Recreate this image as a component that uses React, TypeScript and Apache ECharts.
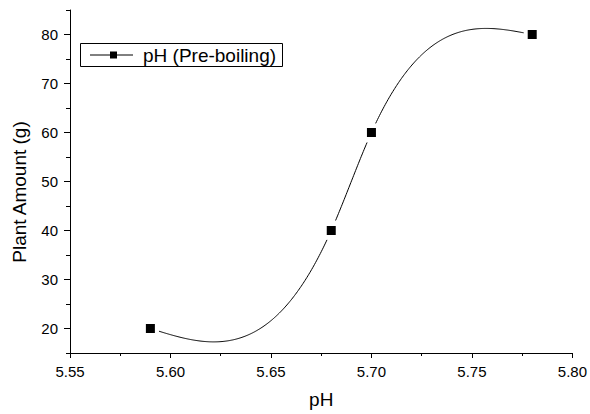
import { useEffect, useRef } from "react";
import * as echarts from "echarts";

const phValues = [5.59, 5.68, 5.7, 5.78];
const plantAmounts = [20, 40, 60, 80];
const seriesName = "pH (Pre-boiling)";
const xAxisTitle = "pH";
const yAxisTitle = "Plant Amount (g)";
const yMajorTicks = [20, 30, 40, 50, 60, 70, 80];

const FONT = "Arial, 'Liberation Sans', sans-serif";

function naturalSpline(xs: number[], ys: number[]) {
  const n = xs.length;
  const h: number[] = [];
  for (let i = 0; i < n - 1; i++) h.push(xs[i + 1] - xs[i]);
  const M = new Array(n).fill(0);
  const a: number[] = [], b: number[] = [], c: number[] = [], d: number[] = [];
  for (let i = 1; i < n - 1; i++) {
    a.push(h[i - 1]);
    b.push(2 * (h[i - 1] + h[i]));
    c.push(h[i]);
    d.push(6 * ((ys[i + 1] - ys[i]) / h[i] - (ys[i] - ys[i - 1]) / h[i - 1]));
  }
  const m = b.length;
  for (let i = 1; i < m; i++) {
    const w = a[i] / b[i - 1];
    b[i] -= w * c[i - 1];
    d[i] -= w * d[i - 1];
  }
  const sol = new Array(m).fill(0);
  if (m > 0) {
    sol[m - 1] = d[m - 1] / b[m - 1];
    for (let i = m - 2; i >= 0; i--) sol[i] = (d[i] - c[i] * sol[i + 1]) / b[i];
  }
  for (let i = 0; i < m; i++) M[i + 1] = sol[i];
  return (x: number) => {
    let i = 0;
    while (i < n - 2 && x > xs[i + 1]) i++;
    const x0 = xs[i], x1 = xs[i + 1], hh = h[i];
    const y0 = ys[i], y1 = ys[i + 1];
    return (
      (M[i] * Math.pow(x1 - x, 3)) / (6 * hh) +
      (M[i + 1] * Math.pow(x - x0, 3)) / (6 * hh) +
      (y0 / hh - (M[i] * hh) / 6) * (x1 - x) +
      (y1 / hh - (M[i + 1] * hh) / 6) * (x - x0)
    );
  };
}

export default function App() {
  const ref = useRef<HTMLDivElement>(null);

  useEffect(() => {
    document.body.style.margin = "0";
    if (!ref.current) return;
    const chart = echarts.init(ref.current, null, { renderer: "svg" });
    const spline = naturalSpline(phValues, plantAmounts);
    const points = phValues.map((x, i) => [x, plantAmounts[i]]);

    const option: any = {
      animation: false,
      backgroundColor: "#fff",
      grid: { left: 70, right: 16, top: 10, bottom: 60 },
      xAxis: {
        type: "value",
        min: 5.55,
        max: 5.8,
        interval: 0.05,
        name: xAxisTitle,
        nameLocation: "middle",
        nameGap: 37,
        nameTextStyle: { fontFamily: FONT, fontSize: 19, color: "#000" },
        axisLine: { show: true, lineStyle: { color: "#000", width: 1 } },
        axisTick: { show: true, length: 5, lineStyle: { color: "#000" } },
        minorTick: { show: true, splitNumber: 2, length: 3, lineStyle: { color: "#000" } },
        splitLine: { show: false },
        axisLabel: {
          fontFamily: FONT,
          fontSize: 15,
          color: "#000",
          margin: 11,
          formatter: (v: number) => v.toFixed(2),
        },
      },
      yAxis: [
        {
          type: "value",
          min: 15,
          max: 85,
          axisLine: { show: true, lineStyle: { color: "#000", width: 1 } },
          axisTick: {
            show: true,
            length: 6,
            customValues: yMajorTicks,
            lineStyle: { color: "#000" },
          },
          splitLine: { show: false },
          axisLabel: {
            fontFamily: FONT,
            fontSize: 15,
            color: "#000",
            margin: 12,
            customValues: yMajorTicks,
          },
        },
        {
          type: "value",
          min: 15,
          max: 85,
          interval: 5,
          position: "left",
          offset: 0,
          axisLine: { show: false },
          axisTick: { show: true, length: 4, lineStyle: { color: "#000" } },
          axisLabel: { show: false },
          splitLine: { show: false },
        },
      ],
      series: [
        {
          type: "custom",
          name: seriesName + " curve",
          data: [points[0]],
          yAxisIndex: 0,
          z: 2,
          silent: true,
          renderItem: (_params: any, api: any) => {
            const markers = points.map((p) => api.coord(p));
            const gap = 8.5;
            const steps = 400;
            const x0 = phValues[0];
            const x1 = phValues[phValues.length - 1];
            const segments: number[][][] = [];
            let cur: number[][] = [];
            for (let s = 0; s <= steps; s++) {
              const x = x0 + ((x1 - x0) * s) / steps;
              const pt = api.coord([x, spline(x)]);
              const near = markers.some(
                (m: number[]) => Math.hypot(m[0] - pt[0], m[1] - pt[1]) < gap
              );
              if (near) {
                if (cur.length > 1) segments.push(cur);
                cur = [];
              } else {
                cur.push(pt);
              }
            }
            if (cur.length > 1) segments.push(cur);
            return {
              type: "group",
              children: segments.map((seg) => ({
                type: "polyline",
                shape: { points: seg },
                style: { stroke: "#000", lineWidth: 1, fill: "none" },
              })),
            };
          },
        },
        {
          type: "scatter",
          name: seriesName,
          data: points,
          yAxisIndex: 0,
          symbol: "rect",
          symbolSize: 9,
          itemStyle: { color: "#000", opacity: 1 },
          z: 3,
        },
      ],
      graphic: [
        {
          type: "text",
          x: 19,
          y: 192,
          rotation: Math.PI / 2,
          style: {
            text: yAxisTitle,
            fontFamily: FONT,
            fontSize: 19,
            fill: "#000",
            align: "center",
            verticalAlign: "middle",
          },
        },
        {
          type: "rect",
          shape: { x: 80.5, y: 43.5, width: 202, height: 23 },
          style: { fill: "#fff", stroke: "#000", lineWidth: 1 },
          z: 10,
        },
        {
          type: "line",
          shape: { x1: 90, y1: 55, x2: 133, y2: 55 },
          style: { stroke: "#000", lineWidth: 1 },
          z: 11,
        },
        {
          type: "rect",
          shape: { x: 110, y: 51.5, width: 7, height: 7 },
          style: { fill: "#000" },
          z: 12,
        },
        {
          type: "text",
          x: 143,
          y: 55,
          style: {
            text: seriesName,
            fontFamily: FONT,
            fontSize: 19,
            fill: "#000",
            verticalAlign: "middle",
            align: "left",
          },
          z: 12,
        },
      ],
    };
    chart.setOption(option);
    return () => chart.dispose();
  }, []);

  return <div ref={ref} style={{ width: 590, height: 414 }} />;
}
